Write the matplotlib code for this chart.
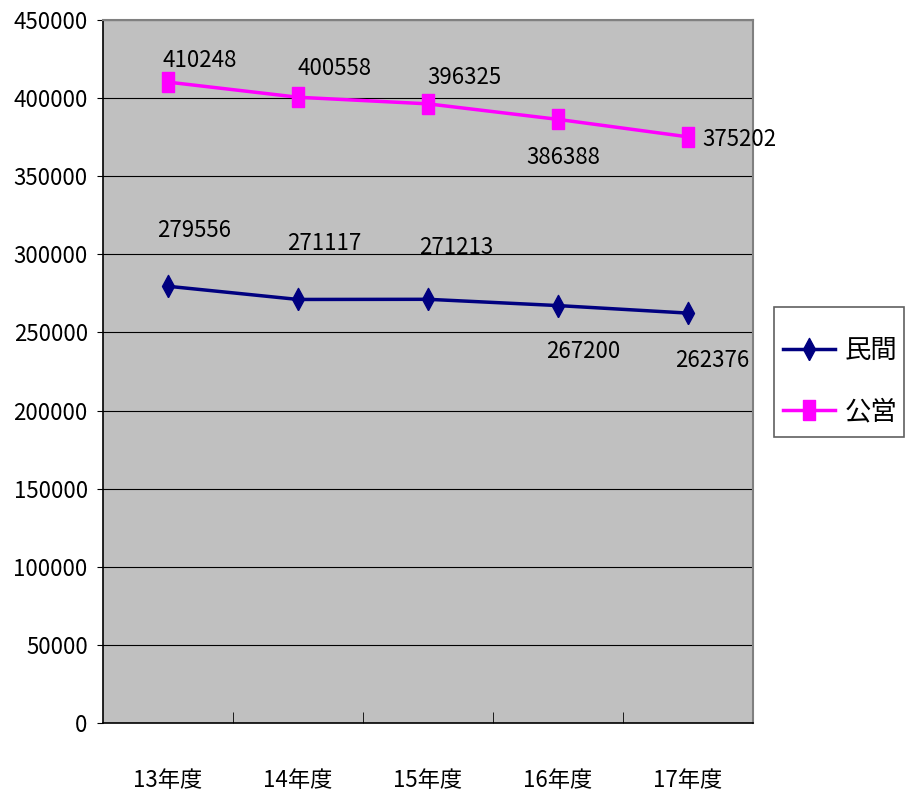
import matplotlib
matplotlib.use("Agg")
import matplotlib.pyplot as plt
from matplotlib.patches import Rectangle
import numpy as np

plt.rcParams['font.family'] = ['Noto Sans CJK JP', 'DejaVu Sans']

years = ["13年度", "14年度", "15年度", "16年度", "17年度"]
minkan = [279556, 271117, 271213, 267200, 262376]
koei = [410248, 400558, 396325, 386388, 375202]

# label offsets in pixels (dx, dy), screen y up
minkan_off = [(26, 56), (26, 56), (28, 52), (25, -46), (24, -47)]
koei_off = [(32, 22), (36, 29), (36, 26), (5, -38), (51, -3)]

W, H = 914, 798
fig = plt.figure(figsize=(W / 100, H / 100), dpi=100)
ax = fig.add_axes([103 / W, 1 - 723 / H, 650 / W, 703 / H])
ax.set_facecolor('#C0C0C0')

x = np.arange(len(years))

diamond = [(0, -0.5), (0.27, 0), (0, 0.5), (-0.27, 0), (0, -0.5)]
rect = [(-0.29, -0.5), (0.29, -0.5), (0.29, 0.5), (-0.29, 0.5), (-0.29, -0.5)]

ax.plot(x, minkan, color='#000080', lw=2.5, marker=diamond, markersize=16,
        markerfacecolor='#000080', markeredgecolor='#000080', label='民間', zorder=3)
ax.plot(x, koei, color='#FF00FF', lw=2.5, marker=rect, markersize=14,
        markerfacecolor='#FF00FF', markeredgecolor='#FF00FF', label='公営', zorder=3)

px = 72 / 100
for xi, v, (dx, dy) in zip(x, minkan, minkan_off):
    ax.annotate(str(v), (xi, v), xytext=(dx * px, dy * px), textcoords='offset points',
                ha='center', va='center', fontsize=16)
for xi, v, (dx, dy) in zip(x, koei, koei_off):
    ax.annotate(str(v), (xi, v), xytext=(dx * px, dy * px), textcoords='offset points',
                ha='center', va='center', fontsize=16)

ax.set_xlim(-0.5, len(years) - 0.5)
ax.set_ylim(0, 450000)
ax.set_yticks(np.arange(0, 450001, 50000))
ax.yaxis.grid(True, color='#000000', lw=0.8)
ax.set_axisbelow(True)
ax.tick_params(axis='y', direction='out', length=4, pad=7, labelsize=16)

ax.set_xticks(x)
ax.set_xticklabels(years)
ax.tick_params(axis='x', length=0, pad=33, labelsize=16)
ax.set_xticks(np.arange(0.5, len(years) - 1, 1), minor=True)
ax.tick_params(axis='x', which='minor', direction='in', length=8, color='#000000')

for s in ['left', 'bottom']:
    ax.spines[s].set_color('#000000')
    ax.spines[s].set_linewidth(1.2)
for s in ['top', 'right']:
    ax.spines[s].set_color('#808080')
    ax.spines[s].set_linewidth(1.5)

# legend box drawn separately so its size can be set directly
fig.patches.append(Rectangle((774 / W, 1 - 437 / H), 130 / W, 130 / H,
                             transform=fig.transFigure, facecolor='white',
                             edgecolor='#606060', lw=1.2, zorder=0))
fig.legend(loc='center', bbox_to_anchor=(840 / W, 1 - 381 / H), fontsize=19,
           frameon=False, handlelength=2.0, labelspacing=1.3, handletextpad=0.35)

fig.savefig('out.png', dpi=100)
